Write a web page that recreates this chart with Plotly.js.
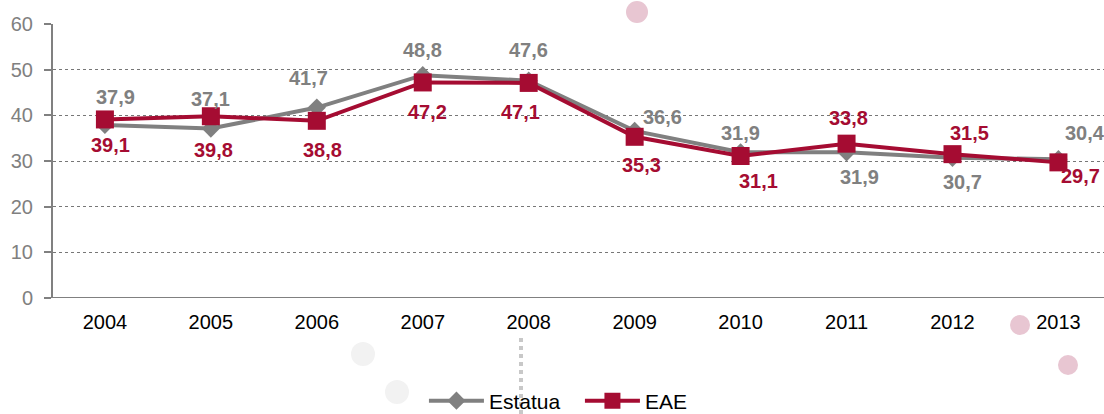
<!DOCTYPE html>
<html>
<head>
<meta charset="utf-8">
<script src="https://cdn.plot.ly/plotly-3.0.1.min.js"></script>
<style>html,body{margin:0;padding:0;background:#fff;}#chart{width:1104px;height:414px;}</style>
</head>
<body>
<div id="chart"></div>
<script>
const years = ['2004','2005','2006','2007','2008','2009','2010','2011','2012','2013'];
const estatua = [37.9, 37.1, 41.7, 48.8, 47.6, 36.6, 31.9, 31.9, 30.7, 30.4];
const eae = [39.1, 39.8, 38.8, 47.2, 47.1, 35.3, 31.1, 33.8, 31.5, 29.7];
const yTicks = [0, 10, 20, 30, 40, 50, 60];

// label offsets in pixels [dx, dy] (dy positive = up)
const estatuaLabelShift = [[11,28],[0,30],[-8,30],[0,25],[0,31],[28,14],[0,19],[13,-25],[10,-24],[27,26]];
const eaeLabelShift = [[6,-26],[3,-34],[6,-29],[5,-30],[-8,-29],[7,-28],[18,-25],[2,26],[17,21],[22,-14]];

const grey = '#808080';
const red = '#A50C32';
const FONT = 'Liberation Sans, Arial, sans-serif';
const fmt = v => v.toFixed(1).replace('.', ',');

const annotations = [];
years.forEach((yr, i) => {
  annotations.push({x: i, y: estatua[i], xref:'x', yref:'y', text: '<b>' + fmt(estatua[i]) + '</b>', showarrow:false,
    xshift: estatuaLabelShift[i][0], yshift: estatuaLabelShift[i][1],
    font:{family:FONT, size:20, color:grey}});
  annotations.push({x: i, y: eae[i], xref:'x', yref:'y', text: '<b>' + fmt(eae[i]) + '</b>', showarrow:false,
    xshift: eaeLabelShift[i][0], yshift: eaeLabelShift[i][1],
    font:{family:FONT, size:20, color:red}});
});

const data = [
  {x: years, y: estatua, name: 'Estatua', type:'scatter', mode:'lines+markers',
   line:{color:grey, width:4}, marker:{symbol:'diamond', size:14, color:grey}},
  {x: years, y: eae, name: 'EAE', type:'scatter', mode:'lines+markers',
   line:{color:red, width:4}, marker:{symbol:'square', size:18, color:red}}
];

// faint background decoration (pixel centre, radius, colour)
function deco(cx, cy, r, col) {
  return {type:'circle', xref:'paper', yref:'paper', layer:'below',
    x0:(cx - r - 53)/1051, x1:(cx + r - 53)/1051, y0:(298 - cy - r)/274, y1:(298 - cy + r)/274,
    fillcolor:col, line:{width:0}};
}

const layout = {
  width:1104, height:414,
  margin:{l:53, r:0, t:24, b:116, pad:0, autoexpand:false},
  paper_bgcolor:'#fff', plot_bgcolor:'rgba(0,0,0,0)',
  font:{family:FONT},
  showlegend:true,
  legend:{orientation:'h', xref:'container', yref:'paper', x:0.384, xanchor:'left',
    y:-0.376, yanchor:'middle', font:{size:21, color:'#000'}, itemwidth:55,
    entrywidth:86, entrywidthmode:'pixels', tracegroupgap:0, bgcolor:'rgba(0,0,0,0)'},
  xaxis:{type:'category', range:[-0.49, 9.43], showgrid:false, showline:false, ticks:'',
    tickfont:{size:20, color:'#000'}, zeroline:false, fixedrange:true, ticklabelstandoff:10},
  yaxis:{range:[0, 60], tickvals:yTicks, showline:true, linecolor:grey, linewidth:2,
    ticks:'outside', ticklen:7, tickcolor:grey, tickwidth:2, ticklabelstandoff:7,
    tickfont:{size:20, color:grey}, showgrid:true, gridcolor:'#777', gridwidth:1, griddash:'dot',
    zeroline:false, automargin:false},
  shapes:[
    deco(637, 12, 11, '#e8c6d2'),
    deco(1020, 325, 10, '#e8c6d2'),
    deco(1068, 365, 10, '#e8c6d2'),
    deco(363, 354, 12, '#f2f2f2'),
    deco(397, 392, 12, '#f2f2f2'),
    {type:'line', xref:'paper', yref:'paper', layer:'below', x0:(521-53)/1051, x1:(521-53)/1051,
      y0:(298-338)/274, y1:(298-414)/274, line:{color:'#c8c8c8', width:4, dash:'dot'}},
    {type:'line', xref:'paper', yref:'y', x0:0, x1:1, y0:0, y1:0, line:{color:grey, width:2}}
  ],
  annotations: annotations
};

Plotly.newPlot('chart', data, layout, {displayModeBar:false, staticPlot:true});
</script>
</body>
</html>
